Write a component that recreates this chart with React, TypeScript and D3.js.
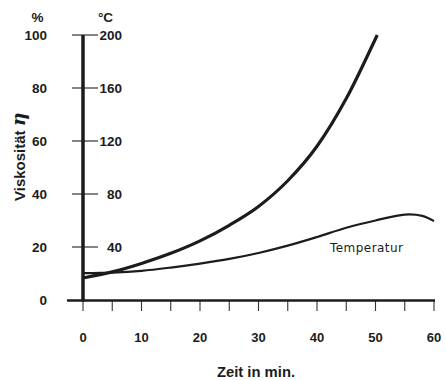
import React, { useRef, useEffect } from "react";
import * as d3 from "d3";

// Zeit in Minuten
const minutes = [0, 5, 10, 15, 20, 25, 30, 35, 40, 45, 50, 50.3];
// Viskosität in %
const viscosity = [8.3, 10.6, 13.8, 17.6, 22.3, 28.2, 35.3, 45, 58, 76, 98.6, 100];

const tempMinutes = [0, 3, 5, 10, 15, 20, 25, 30, 35, 40, 45, 50, 55, 58, 60];
// Temperatur in °C
const temperature = [20.3, 20.4, 20.6, 22, 24.5, 27.5, 31, 35.5, 41, 47.5, 54.5, 60, 64.5, 63.5, 59.5];

const xTicks = [0, 10, 20, 30, 40, 50, 60];
const xMinorTicks = [0, 5, 10, 15, 20, 25, 30, 35, 40, 45, 50, 55, 60];
const pctTicks = [0, 20, 40, 60, 80, 100];
const tempTicks = [40, 80, 120, 160, 200];

export default function App() {
    const ref = useRef<SVGSVGElement | null>(null);

    useEffect(() => {
        if (!ref.current) return;
        const svg = d3.select(ref.current);
        svg.selectAll("*").remove();

        const font = "'Liberation Sans', Arial, sans-serif";
        const ink = "#1c1c1c";

        const x = d3.scaleLinear().domain([0, 60]).range([83, 434]);
        const yPct = d3.scaleLinear().domain([0, 100]).range([300, 35]);
        const yTemp = d3.scaleLinear().domain([0, 200]).range([300, 35]);

        const g = svg.append("g");

        // y Ticks (kreuzen die Achse)
        g.selectAll(".y-tick")
            .data(pctTicks.filter((d) => d > 0))
            .enter()
            .append("line")
            .attr("x1", 72)
            .attr("x2", 98)
            .attr("y1", (d) => yPct(d))
            .attr("y2", (d) => yPct(d))
            .style("stroke", "#333")
            .style("stroke-width", 1.2);

        // x Ticks
        g.selectAll(".x-tick")
            .data(xMinorTicks)
            .enter()
            .append("line")
            .attr("x1", (d) => x(d))
            .attr("x2", (d) => x(d))
            .attr("y1", 300)
            .attr("y2", 311)
            .style("stroke", "#333")
            .style("stroke-width", 1.1);

        // Achsen
        g.append("line")
            .attr("x1", 67)
            .attr("x2", x(60) + 1)
            .attr("y1", 300.5)
            .attr("y2", 300.5)
            .style("stroke", ink)
            .style("stroke-width", 2.4);

        g.append("line")
            .attr("x1", x(0))
            .attr("x2", x(0))
            .attr("y1", yPct(100))
            .attr("y2", 301.5)
            .style("stroke", ink)
            .style("stroke-width", 3.5);

        // Labels links (%)
        g.selectAll(".pct-label")
            .data(pctTicks)
            .enter()
            .append("text")
            .attr("x", 47)
            .attr("y", (d) => yPct(d) + 5)
            .attr("text-anchor", "end")
            .style("font-family", font)
            .style("font-weight", "bold")
            .style("font-size", "13.5px")
            .style("fill", ink)
            .text((d) => d);

        // Labels rechts (°C)
        g.selectAll(".temp-label")
            .data(tempTicks)
            .enter()
            .append("text")
            .attr("x", 122)
            .attr("y", (d) => yTemp(d) + 5)
            .attr("text-anchor", "end")
            .style("font-family", font)
            .style("font-weight", "bold")
            .style("font-size", "13.5px")
            .style("fill", ink)
            .text((d) => d);

        g.append("text")
            .attr("x", 37.5)
            .attr("y", 22)
            .attr("text-anchor", "middle")
            .style("font-family", font)
            .style("font-weight", "bold")
            .style("font-size", "13.5px")
            .style("fill", ink)
            .text("%");

        g.append("text")
            .attr("x", 105.5)
            .attr("y", 22)
            .attr("text-anchor", "middle")
            .style("font-family", font)
            .style("font-weight", "bold")
            .style("font-size", "13.5px")
            .style("fill", ink)
            .text("°C");

        // x Labels
        g.selectAll(".x-label")
            .data(xTicks)
            .enter()
            .append("text")
            .attr("x", (d) => x(d))
            .attr("y", 342)
            .attr("text-anchor", "middle")
            .style("font-family", font)
            .style("font-weight", "bold")
            .style("font-size", "13px")
            .style("fill", ink)
            .text((d) => d);

        g.append("text")
            .attr("x", 256)
            .attr("y", 377)
            .attr("text-anchor", "middle")
            .style("font-family", font)
            .style("font-weight", "bold")
            .style("font-size", "14.8px")
            .style("fill", ink)
            .text("Zeit in min.");

        // y Titel
        const yTitle = g.append("text")
            .attr("transform", "translate(25,201) rotate(-90)")
            .attr("text-anchor", "start")
            .style("font-family", font)
            .style("font-weight", "bold")
            .style("font-size", "15px")
            .style("fill", ink);
        yTitle.append("tspan").text("Viskosität ");
        yTitle.append("tspan")
            .style("font-size", "19px")
            .style("font-style", "italic")
            .style("font-family", "'DejaVu Serif', serif")
            .text("η");

        // Kurven
        const viscLine = d3.line<number>()
            .x((_, i) => x(minutes[i]))
            .y((d) => yPct(d))
            .curve(d3.curveMonotoneX);

        const tempLine = d3.line<number>()
            .x((_, i) => x(tempMinutes[i]))
            .y((d) => yTemp(d))
            .curve(d3.curveCatmullRom);

        g.append("path")
            .datum(temperature)
            .attr("d", tempLine)
            .style("fill", "none")
            .style("stroke", ink)
            .style("stroke-width", 2.2);

        g.append("path")
            .datum(viscosity)
            .attr("d", viscLine)
            .style("fill", "none")
            .style("stroke", ink)
            .style("stroke-width", 3.2);

        g.append("text")
            .attr("x", 330)
            .attr("y", 252)
            .attr("textLength", 73)
            .style("font-family", "'DejaVu Sans', sans-serif")
            .style("font-size", "12px")
            .style("fill", ink)
            .text("Temperatur");
    }, []);

    return (
        <div>
            <svg
                ref={ref}
                width={446}
                height={380}
                style={{ position: "absolute", left: 0, top: 0, background: "white" }}
            />
        </div>
    );
}
